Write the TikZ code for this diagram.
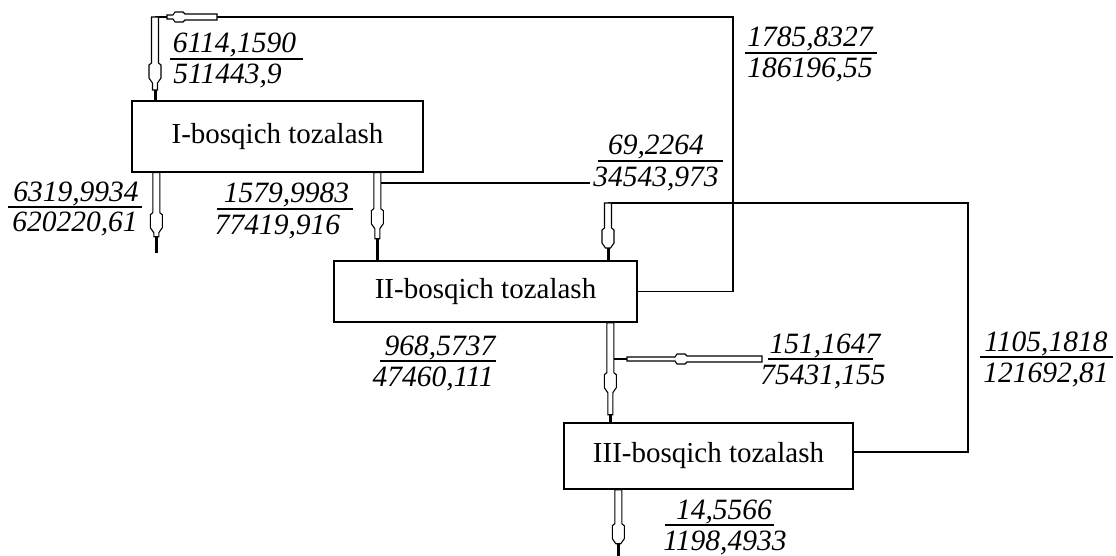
\documentclass[tikz,border=0pt]{standalone}
\usepackage{fontspec}
\setmainfont{Liberation Serif}
\usetikzlibrary{calc}
\tikzset{
  box/.style={draw, line width=1.4pt, inner sep=0pt, font=\fontsize{29}{34}\selectfont},
  conn/.style={line width=1.3pt},
  pipeout/.style={draw, fill=white, line width=1.1pt, line join=miter},
  pipetail/.style={line width=3pt},
  numtxt/.style={font=\fontsize{29.5}{32}\selectfont\itshape, inner sep=0pt, anchor=base},
  fracrule/.style={line width=1.3pt},
}
% vertical pipe going down: #1 start, #2 end, #3 shaft length, #4 narrow length
\newcommand\vpipe[4]{%
  \draw[pipeout] let \p1=(#1) in
    (\x1-3.5pt,\y1) -- (\x1-3.5pt,\y1-#3) -- (\x1-6pt,\y1-#3-2pt) -- (\x1-6pt,\y1-#3-15pt)
    -- (\x1-2.5pt,\y1-#3-20pt) -- (\x1-2.5pt,\y1-#3-20pt-#4) -- (\x1+2.5pt,\y1-#3-20pt-#4)
    -- (\x1+2.5pt,\y1-#3-20pt) -- (\x1+6pt,\y1-#3-15pt) -- (\x1+6pt,\y1-#3-2pt)
    -- (\x1+3.5pt,\y1-#3) -- (\x1+3.5pt,\y1) -- cycle;
  \draw[pipetail] let \p1=(#1), \p2=(#2) in (\x1,\y1-#3-20pt-#4) -- (\x1,\y2);
}
% horizontal pipe going left: #1 start, #2 end, #3 shaft length, #4 narrow length
\newcommand\hpipe[4]{%
  \draw[pipeout] let \p1=(#1) in
    (\x1,\y1+3pt) -- (\x1-#3,\y1+3pt) -- (\x1-#3-2pt,\y1+5pt) -- (\x1-#3-10pt,\y1+5pt)
    -- (\x1-#3-12pt,\y1+2pt) -- (\x1-#3-12pt-#4,\y1+2pt) -- (\x1-#3-12pt-#4,\y1-2pt)
    -- (\x1-#3-12pt,\y1-2pt) -- (\x1-#3-10pt,\y1-5pt) -- (\x1-#3-2pt,\y1-5pt)
    -- (\x1-#3,\y1-3pt) -- (\x1,\y1-3pt) -- cycle;
  \draw[conn] let \p1=(#1), \p2=(#2) in (\x1-#3-12pt-#4,\y1) -- (\x2,\y1);
}
\begin{document}
\begin{tikzpicture}[x=1pt,y=-1pt]
\useasboundingbox (0,0) rectangle (1116,556);
% boxes
\node[box, minimum width=291, minimum height=71] (b1) at (277.5,136.5) {I-bosqich tozalash};
\node[box, minimum width=303, minimum height=61] (b2) at (485.5,291.5) {II-bosqich tozalash};
\node[box, minimum width=289, minimum height=66] (b3) at (708.5,456) {III-bosqich tozalash};
% coordinates
\coordinate (tr) at (733,17);
\coordinate (pA) at (217,17);
\coordinate (cA) at (155,17);
\coordinate (b1in) at ($(b1.north west)+(23,0)$);
\coordinate (b1outL) at ($(b1.south west)+(25,0)$);
\coordinate (endB) at (157,253);
\coordinate (b1outR) at ($(b1.south west)+(246,0)$);
\coordinate (b2inC) at ($(b2.north west)+(44,0)$);
\coordinate (c1) at (378,183);
\coordinate (c2) at (590,183);
\coordinate (dTop) at (608,203);
\coordinate (b2inD) at ($(b2.north west)+(274,0)$);
\coordinate (rc) at (968,452);
\coordinate (b3r) at ($(b3.east)+(0,-4)$);
\coordinate (b2out) at ($(b2.south west)+(277,0)$);
\coordinate (b3in) at ($(b3.north west)+(47,0)$);
\coordinate (gR) at (762,359);
\coordinate (gL) at (611,359);
\coordinate (b3out) at ($(b3.south west)+(55,0)$);
\coordinate (endF) at (619,556);
% recycle loop from II to I
\draw[conn] (b2.east) -| (tr) -- (pA);
\hpipe{pA}{cA}{32pt}{6pt}
\vpipe{cA}{b1in}{46pt}{7pt}
% I outputs
\vpipe{b1outL}{endB}{40pt}{4pt}
\draw[conn] (c1) -- (c2);
\vpipe{b1outR}{b2inC}{36pt}{10pt}
% recycle loop from III to II
\draw[conn] (b3r) -- (rc) |- (dTop);
\vpipe{dTop}{b2inD}{25pt}{0pt}
% II to III
\hpipe{gR}{gL}{75pt}{48pt}
\vpipe{b2out}{b3in}{50pt}{22pt}
% III output
\vpipe{b3out}{endF}{34pt}{0pt}
% labels
\node[numtxt] (n1) at (234.5,53) {6114,1590};
\node[numtxt] (d1) at (227.5,84) {511443,9};
\draw[fracrule] (170,59) -- (303,59);
\node[numtxt] (n2) at (76,201) {6319,9934};
\node[numtxt] (d2) at (75,232) {620220,61};
\draw[fracrule] (8,207) -- (142,207);
\node[numtxt] (n3) at (286.5,203) {1579,9983};
\node[numtxt] (d3) at (277.5,234) {77419,916};
\draw[fracrule] (217,209) -- (353,209);
\node[numtxt] (n4) at (656,155) {69,2264};
\node[numtxt] (d4) at (656,186) {34543,973};
\draw[fracrule] (598,161) -- (723,161);
\node[numtxt] (n5) at (810,47) {1785,8327};
\node[numtxt] (d5) at (810,78) {186196,55};
\draw[fracrule] (745,53) -- (877,53);
\node[numtxt] (n6) at (440,355) {968,5737};
\node[numtxt] (d6) at (433,386) {47460,111};
\draw[fracrule] (380,361) -- (496,361);
\node[numtxt] (n7) at (825,353) {151,1647};
\node[numtxt] (d7) at (823,384) {75431,155};
\draw[fracrule] (768,359) -- (873,359);
\node[numtxt] (n8) at (1046,351) {1105,1818};
\node[numtxt] (d8) at (1046,382) {121692,81};
\draw[fracrule] (980,357) -- (1113,357);
\node[numtxt] (n9) at (724,519) {14,5566};
\node[numtxt] (d9) at (725,550) {1198,4933};
\draw[fracrule] (665,525) -- (774,525);
\end{tikzpicture}
\end{document}
